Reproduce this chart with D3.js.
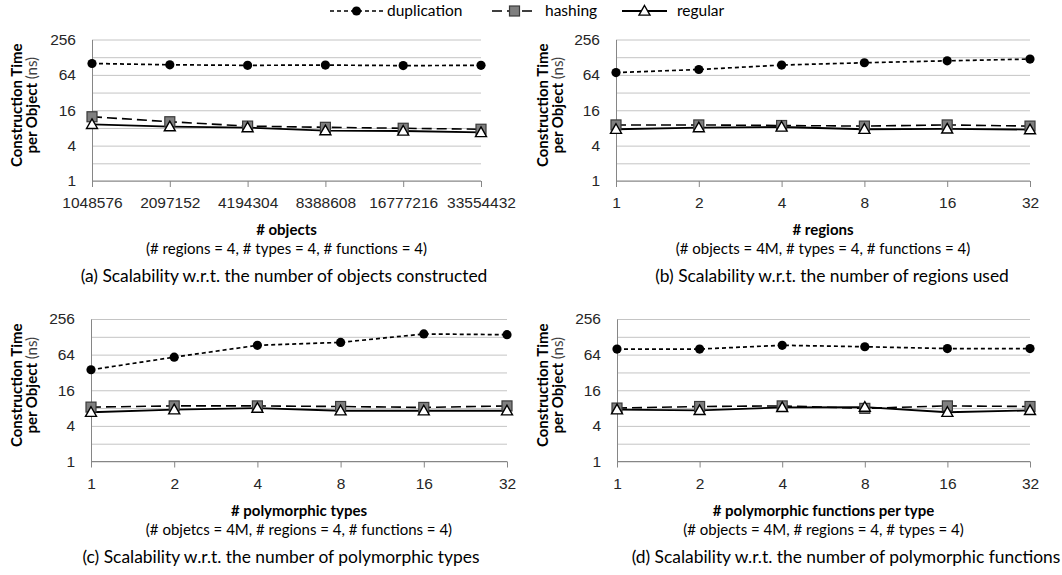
<!DOCTYPE html>
<html>
<head>
<meta charset="utf-8">
<script src="https://cdn.jsdelivr.net/npm/d3@7"></script>
<style>
  body { margin: 0; background: #fff; }
  svg { font-family: Lato, "Open Sans", sans-serif; }
  .grid line { stroke: #c4c4c4; stroke-width: 1; }
  .grid .domain { display: none; }
  .axis .domain, .axis line { stroke: #868686; }
  .axis text { fill: #262626; font-size: 15.5px; }
</style>
</head>
<body>
<div id="chart"></div>
<script>
// series names and legend
const seriesNames = ["duplication", "hashing", "regular"];

// x categories
const objectCounts = ["1048576", "2097152", "4194304", "8388608", "16777216", "33554432"];
const powersOfTwo = ["1", "2", "4", "8", "16", "32"];

// y ticks (log base 2)
const yLabelTicks = [1, 4, 16, 64, 256];
const yGridTicks = [1, 2, 4, 8, 16, 32, 64, 128, 256];

// (a) # objects
const dupA = [100, 95, 93, 94, 92, 93];
const hashA = [12.4, 10.2, 8.6, 8.2, 7.9, 7.6];
const regA = [9.2, 8.4, 8.1, 7.2, 7.1, 6.7];

// (b) # regions
const dupB = [70, 79, 94, 103, 111, 119];
const hashB = [9.0, 9.0, 8.8, 8.6, 9.0, 8.6];
const regB = [7.6, 8.1, 8.3, 7.6, 7.7, 7.5];

// (c) # polymorphic types
const dupC = [35.5, 58, 92, 103, 143, 139];
const hashC = [8.3, 8.7, 8.7, 8.5, 8.2, 8.7];
const regC = [6.8, 7.5, 8.0, 7.2, 7.2, 7.2];

// (d) # polymorphic functions per type
const dupD = [79.5, 79.5, 92, 87, 81, 81];
const hashD = [8.0, 8.5, 8.7, 7.9, 8.7, 8.5];
const regD = [7.5, 7.3, 8.2, 8.3, 6.8, 7.3];

const panels = [
  { left: 0, x0: 92, x1: 481, yTop: 39.5, yBot: 181, cats: objectCounts,
    data: [dupA, hashA, regA], title: "# objects", capX: 284,
    sub: "(# regions = 4, # types = 4, # functions = 4)",
    caption: "(a) Scalability w.r.t. the number of objects constructed" },
  { left: 526, x0: 616, x1: 1030, yTop: 39.5, yBot: 181, cats: powersOfTwo,
    data: [dupB, hashB, regB], title: "# regions", capX: 832,
    sub: "(# objects = 4M, # types = 4, # functions = 4)",
    caption: "(b) Scalability w.r.t. the number of regions used" },
  { left: 0, x0: 91, x1: 507, yTop: 319, yBot: 461.5, cats: powersOfTwo,
    data: [dupC, hashC, regC], title: "# polymorphic types", capX: 281,
    sub: "(# objetcs = 4M, # regions = 4, # functions = 4)",
    caption: "(c) Scalability w.r.t. the number of polymorphic types" },
  { left: 526, x0: 617, x1: 1030, yTop: 319, yBot: 461.5, cats: powersOfTwo,
    data: [dupD, hashD, regD], title: "# polymorphic functions per type", capX: 846,
    sub: "(# objects = 4M, # regions = 4, # types = 4)",
    caption: "(d) Scalability w.r.t. the number of polymorphic functions" }
];

const width = 1062, height = 575;
const svg = d3.select("#chart").append("svg")
  .attr("width", width)
  .attr("height", height);

const lineStyles = [
  { dash: "4,3", width: 1.7 },
  { dash: "10,5", width: 1.6 },
  { dash: null, width: 1.8 }
];

// draw one marker of a series
function drawMarker(g, i, x, y) {
  if (i === 0) {
    g.append("circle").attr("cx", x).attr("cy", y).attr("r", 4.6)
      .attr("fill", "#000");
  } else if (i === 1) {
    g.append("rect").attr("x", x - 5).attr("y", y - 5)
      .attr("width", 10).attr("height", 10)
      .attr("fill", "#7f7f7f").attr("stroke", "#3a3a3a").attr("stroke-width", 1.2);
  } else {
    const s = 5.5;
    g.append("path")
      .attr("d", `M${x},${y - s}L${x + s},${y + s * 0.75}L${x - s},${y + s * 0.75}Z`)
      .attr("fill", "#fff").attr("stroke", "#000").attr("stroke-width", 1.4);
  }
}

panels.forEach(p => {
  const x = d3.scalePoint().domain(p.cats).range([p.x0, p.x1]).padding(0);
  const y = d3.scaleLog().base(2).domain([1, 256]).range([p.yBot, p.yTop]);
  const g = svg.append("g");

  // gridlines
  g.append("g").attr("class", "grid")
    .attr("transform", `translate(${p.x0},0)`)
    .call(d3.axisLeft(y).tickValues(yGridTicks).tickSize(-(p.x1 - p.x0)).tickFormat(""));

  // y axis
  g.append("g").attr("class", "axis")
    .attr("transform", `translate(${p.x0},0)`)
    .call(d3.axisLeft(y).tickValues(yLabelTicks).tickSize(0).tickPadding(16)
      .tickFormat(d3.format("d")));

  // x axis
  g.append("g").attr("class", "axis")
    .attr("transform", `translate(0,${p.yBot})`)
    .call(d3.axisBottom(x).tickSize(6).tickSizeOuter(0).tickPadding(10))
    .call(a => a.select(".domain").attr("d", `M${p.x0},0H${p.x1}`));

  // series lines
  const line = d3.line().x((d, i) => x(p.cats[i])).y(d => y(d));
  p.data.forEach((vals, si) => {
    g.append("path").datum(vals)
      .attr("d", line)
      .attr("fill", "none")
      .attr("stroke", "#000")
      .attr("stroke-width", lineStyles[si].width)
      .attr("stroke-dasharray", lineStyles[si].dash);
  });
  p.data.forEach((vals, si) => {
    vals.forEach((v, i) => drawMarker(g, si, x(p.cats[i]), y(v)));
  });

  // y title
  const cy = (p.yTop + p.yBot) / 2 - 5;
  g.append("text")
    .attr("transform", `translate(${p.left + 22},${cy}) rotate(-90)`)
    .attr("text-anchor", "middle")
    .attr("font-size", 15).attr("font-weight", "bold").attr("fill", "#000")
    .text("Construction Time");
  const yt2 = g.append("text")
    .attr("transform", `translate(${p.left + 37},${cy}) rotate(-90)`)
    .attr("text-anchor", "middle")
    .attr("font-size", 15).attr("fill", "#000");
  yt2.append("tspan").attr("font-weight", "bold").text("per Object ");
  yt2.append("tspan").attr("fill", "#404040").text("(ns)");

  // x title, subtitle and caption
  const cx = (p.x0 + p.x1) / 2;
  g.append("text").attr("x", cx).attr("y", p.yBot + 54)
    .attr("text-anchor", "middle").attr("font-size", 15)
    .attr("font-weight", "bold").text(p.title);
  g.append("text").attr("x", cx).attr("y", p.yBot + 73)
    .attr("text-anchor", "middle").attr("font-size", 15).text(p.sub);
  g.append("text").attr("x", p.capX).attr("y", p.yBot + 101)
    .attr("text-anchor", "middle").attr("font-size", 17.4).text(p.caption);
});

// legend
const legendItems = [
  { x0: 330, x1: 383, tx: 387 },
  { x0: 492, x1: 537, tx: 545 },
  { x0: 622, x1: 667, tx: 677 }
];
const lg = svg.append("g");
legendItems.forEach((it, i) => {
  lg.append("line").attr("x1", it.x0).attr("x2", it.x1).attr("y1", 11).attr("y2", 11)
    .attr("stroke", "#000").attr("stroke-width", lineStyles[i].width)
    .attr("stroke-dasharray", lineStyles[i].dash);
  drawMarker(lg, i, (it.x0 + it.x1) / 2, 11);
  lg.append("text").attr("x", it.tx).attr("y", 16).attr("font-size", 15.5)
    .text(seriesNames[i]);
});
</script>
</body>
</html>
